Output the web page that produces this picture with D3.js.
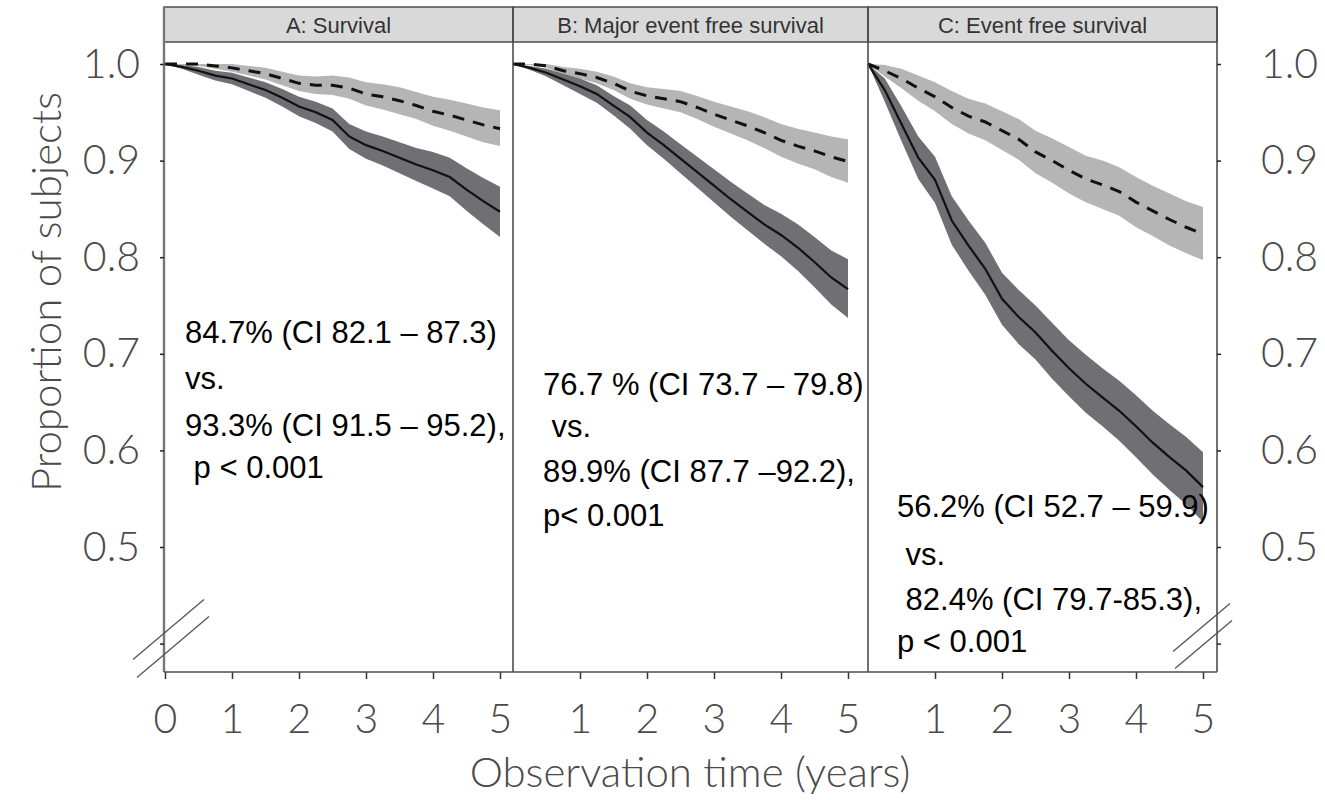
<!DOCTYPE html>
<meta charset="utf-8">
<style>
body { margin: 0; background: #fff; }
svg { display: block; }
.tick-label, .axis-title {
  font-family: Lato, "Open Sans", sans-serif;
  font-weight: 300;
  fill: #4a4a4a;
}
.strip-text {
  font-family: "Liberation Sans", Arial, sans-serif;
  font-size: 22px;
  fill: #333;
}
.note {
  font-family: "Liberation Sans", Arial, sans-serif;
  font-size: 31px;
  fill: #000;
  white-space: pre;
}
</style>
<body>
<script src="https://d3js.org/d3.v7.min.js"></script>
<script>
// follow-up times (years)
var years = [0, 0.25, 0.5, 0.75, 1, 1.25, 1.5, 1.75, 2, 2.25, 2.5, 2.75, 3, 3.25, 3.5, 3.75, 4, 4.25, 4.5, 4.75, 5];

var panelTitles = ["A: Survival", "B: Major event free survival", "C: Event free survival"];

// A: survival
var aSolid   = [1.0, 0.997, 0.993, 0.988, 0.985, 0.979, 0.973, 0.965, 0.956, 0.950, 0.942, 0.925, 0.916, 0.910, 0.903, 0.896, 0.890, 0.883, 0.870, 0.858, 0.847];
var aSolidLo = [1.0, 0.995, 0.989, 0.983, 0.979, 0.972, 0.965, 0.956, 0.946, 0.939, 0.930, 0.912, 0.902, 0.895, 0.887, 0.879, 0.871, 0.863, 0.848, 0.834, 0.821];
var aSolidHi = [1.0, 0.999, 0.997, 0.993, 0.991, 0.986, 0.981, 0.974, 0.966, 0.961, 0.954, 0.938, 0.930, 0.925, 0.919, 0.913, 0.909, 0.903, 0.892, 0.882, 0.873];
var aDash    = [1.0, 1.0, 1.0, 0.998, 0.996, 0.993, 0.990, 0.985, 0.980, 0.978, 0.978, 0.975, 0.969, 0.966, 0.962, 0.957, 0.951, 0.947, 0.942, 0.937, 0.933];
var aDashLo  = [1.0, 0.999, 0.998, 0.995, 0.992, 0.988, 0.984, 0.978, 0.972, 0.969, 0.968, 0.964, 0.957, 0.953, 0.948, 0.943, 0.936, 0.931, 0.925, 0.919, 0.915];
var aDashHi  = [1.0, 1.0, 1.0, 1.0, 1.0, 0.998, 0.996, 0.992, 0.988, 0.987, 0.988, 0.986, 0.981, 0.979, 0.976, 0.971, 0.966, 0.963, 0.959, 0.955, 0.952];

// B: major event free survival
var bSolid   = [1.0, 0.996, 0.991, 0.984, 0.977, 0.969, 0.957, 0.945, 0.929, 0.916, 0.902, 0.888, 0.874, 0.860, 0.847, 0.834, 0.823, 0.810, 0.795, 0.779, 0.767];
var bSolidLo = [1.0, 0.994, 0.987, 0.978, 0.969, 0.960, 0.947, 0.933, 0.916, 0.902, 0.887, 0.872, 0.857, 0.842, 0.828, 0.814, 0.801, 0.786, 0.769, 0.751, 0.737];
var bSolidHi = [1.0, 0.998, 0.995, 0.990, 0.985, 0.978, 0.967, 0.957, 0.942, 0.930, 0.917, 0.904, 0.891, 0.878, 0.866, 0.854, 0.845, 0.834, 0.821, 0.807, 0.798];
var bDash    = [1.0, 1.0, 0.998, 0.993, 0.990, 0.986, 0.980, 0.972, 0.967, 0.964, 0.961, 0.955, 0.948, 0.942, 0.936, 0.929, 0.921, 0.915, 0.910, 0.904, 0.899];
var bDashLo  = [1.0, 0.999, 0.996, 0.989, 0.985, 0.980, 0.973, 0.964, 0.958, 0.954, 0.950, 0.943, 0.935, 0.928, 0.921, 0.913, 0.904, 0.897, 0.891, 0.883, 0.877];
var bDashHi  = [1.0, 1.0, 1.0, 0.997, 0.995, 0.992, 0.987, 0.980, 0.976, 0.974, 0.972, 0.967, 0.961, 0.956, 0.951, 0.945, 0.938, 0.933, 0.929, 0.925, 0.922];

// C: event free survival
var cSolid   = [1.0, 0.973, 0.938, 0.903, 0.880, 0.838, 0.812, 0.788, 0.757, 0.738, 0.722, 0.703, 0.685, 0.669, 0.655, 0.641, 0.625, 0.608, 0.593, 0.579, 0.562];
var cSolidLo = [1.0, 0.961, 0.920, 0.881, 0.856, 0.813, 0.786, 0.761, 0.730, 0.710, 0.694, 0.674, 0.656, 0.639, 0.625, 0.610, 0.593, 0.575, 0.559, 0.544, 0.526];
var cSolidHi = [1.0, 0.985, 0.956, 0.925, 0.904, 0.863, 0.838, 0.815, 0.784, 0.766, 0.750, 0.732, 0.714, 0.699, 0.685, 0.672, 0.657, 0.641, 0.627, 0.614, 0.598];
var cDash    = [1.0, 0.993, 0.985, 0.975, 0.966, 0.955, 0.946, 0.940, 0.931, 0.922, 0.909, 0.900, 0.890, 0.881, 0.875, 0.868, 0.857, 0.848, 0.839, 0.831, 0.824];
var cDashLo  = [1.0, 0.987, 0.975, 0.962, 0.951, 0.938, 0.928, 0.921, 0.911, 0.901, 0.887, 0.877, 0.866, 0.857, 0.850, 0.843, 0.831, 0.822, 0.812, 0.804, 0.797];
var cDashHi  = [1.0, 0.999, 0.995, 0.988, 0.981, 0.972, 0.964, 0.959, 0.951, 0.943, 0.931, 0.923, 0.914, 0.905, 0.900, 0.893, 0.883, 0.874, 0.866, 0.858, 0.852];

// annotation texts
var notesA = ["84.7% (CI 82.1 \u2013 87.3)", "vs.", "93.3% (CI 91.5 \u2013 95.2),", " p < 0.001"];
var notesB = ["76.7 % (CI 73.7 \u2013 79.8)", " vs.", "89.9% (CI 87.7 \u201392.2),", "p< 0.001"];
var notesC = ["56.2% (CI 52.7 \u2013 59.9)", " vs.", " 82.4% (CI 79.7-85.3),", "p < 0.001"];

var yTicks = [0.4, 0.5, 0.6, 0.7, 0.8, 0.9, 1.0];

// build per-panel tables
function rows(est, lo, hi) {
  return years.map(function(t, i) { return {t: t, v: est[i], lo: lo[i], hi: hi[i]}; });
}
var panels = [
  {title: panelTitles[0], solid: rows(aSolid, aSolidLo, aSolidHi), dash: rows(aDash, aDashLo, aDashHi), notes: notesA},
  {title: panelTitles[1], solid: rows(bSolid, bSolidLo, bSolidHi), dash: rows(bDash, bDashLo, bDashHi), notes: notesB},
  {title: panelTitles[2], solid: rows(cSolid, cSolidLo, cSolidHi), dash: rows(cDash, cDashLo, cDashHi), notes: notesC}
];

var width = 1325, height = 800;
var edges = [164, 513, 868, 1217];   // panel borders
var stripTop = 7, plotTop = 42, plotBottom = 672;
var noteX = [185, 543, 897];
var noteY = [[343, 389, 436, 478], [395, 437, 482, 526], [517, 565, 610, 652]];

var svg = d3.select("body").append("svg")
    .attr("width", width)
    .attr("height", height);

var y = d3.scaleLinear().domain([0.5, 1.0]).range([547, 64]);

var lineCol = "#4d4d4d";

panels.forEach(function(p, i) {
  var x0 = edges[i] + (i == 0 ? 1 : 0);
  var x = d3.scaleLinear().domain([0, 5]).range([x0, x0 + 335]);

  var area = d3.area()
      .x(function(d) { return x(d.t); })
      .y0(function(d) { return y(d.lo); })
      .y1(function(d) { return y(d.hi); });
  var line = d3.line()
      .x(function(d) { return x(d.t); })
      .y(function(d) { return y(d.v); });

  var g = svg.append("g");

  // bands
  g.append("path").datum(p.dash).attr("d", area).attr("fill", "#b5b5b5");
  g.append("path").datum(p.solid).attr("d", area).attr("fill", "#707074");

  // curves
  g.append("path").datum(p.solid).attr("d", line)
      .attr("fill", "none").attr("stroke", "#111").attr("stroke-width", 2.2);
  g.append("path").datum(p.dash).attr("d", line)
      .attr("fill", "none").attr("stroke", "#111").attr("stroke-width", 3)
      .attr("stroke-dasharray", "12,9");

  // strip header
  g.append("rect")
      .attr("x", edges[i]).attr("y", stripTop)
      .attr("width", edges[i + 1] - edges[i]).attr("height", plotTop - stripTop)
      .attr("fill", "#d9d9d9").attr("stroke", lineCol).attr("stroke-width", 1.5);
  g.append("text")
      .attr("class", "strip-text")
      .attr("x", (edges[i] + edges[i + 1]) / 2)
      .attr("y", 33)
      .attr("text-anchor", "middle")
      .text(p.title);

  // x axis
  var ticks = i == 0 ? [0, 1, 2, 3, 4, 5] : [1, 2, 3, 4, 5];
  var ax = g.append("g")
      .attr("transform", "translate(0," + plotBottom + ")")
      .call(d3.axisBottom(x).tickValues(ticks).tickSize(7).tickPadding(25).tickFormat(d3.format("d")));
  ax.select(".domain").remove();
  ax.selectAll("line").attr("stroke", "#333").attr("stroke-width", 1.5);
  ax.selectAll("text").attr("class", "tick-label").style("font-size", "41px").attr("fill", null);

  // notes
  g.selectAll(".note")
      .data(p.notes)
      .enter()
      .append("text")
      .attr("class", "note")
      .attr("x", noteX[i])
      .attr("y", function(d, j) { return noteY[i][j]; })
      .text(function(d) { return d; });
});

// frame
var frame = svg.append("g").attr("stroke", lineCol).attr("stroke-width", 1.6);
edges.forEach(function(e, i) {
  frame.append("line").attr("x1", e).attr("x2", e).attr("y1", stripTop).attr("y2", plotBottom)
      .attr("stroke-width", i == 0 ? 2.4 : 1.6).attr("stroke", i == 0 ? "#777" : lineCol);
});
frame.append("line").attr("x1", edges[0]).attr("x2", edges[3]).attr("y1", plotBottom).attr("y2", plotBottom);

// y axes
var yl = svg.append("g")
    .attr("transform", "translate(" + edges[0] + ",0)")
    .call(d3.axisLeft(y).tickValues(yTicks).tickSize(4).tickPadding(20)
          .tickFormat(function(v) { return v < 0.45 ? "" : d3.format(".1f")(v); }));
var yr = svg.append("g")
    .attr("transform", "translate(" + edges[3] + ",0)")
    .call(d3.axisRight(y).tickValues(yTicks).tickSize(4).tickPadding(40)
          .tickFormat(function(v) { return v < 0.45 ? "" : d3.format(".1f")(v); }));
[yl, yr].forEach(function(a) {
  a.select(".domain").remove();
  a.selectAll("line").attr("stroke", "#222").attr("stroke-width", 1.5);
  a.selectAll("text").attr("class", "tick-label").style("font-size", "41px").attr("fill", null);
});

// axis break marks
var brk = svg.append("g").attr("stroke", "#555").attr("stroke-width", 1.3);
var bx = edges[0], by = y(0.4);
brk.append("line").attr("x1", bx - 31).attr("y1", by + 16).attr("x2", bx + 40).attr("y2", by - 44);
brk.append("line").attr("x1", bx - 27).attr("y1", by + 34).attr("x2", bx + 45).attr("y2", by - 27);
var rx = edges[3];
brk.append("line").attr("x1", rx - 44).attr("y1", by + 8).attr("x2", rx + 13).attr("y2", by - 40);
brk.append("line").attr("x1", rx - 42).attr("y1", by + 25).attr("x2", rx + 15).attr("y2", by - 23);

// axis titles
svg.append("text")
    .attr("class", "axis-title")
    .attr("transform", "translate(61,292) rotate(-90)")
    .attr("text-anchor", "middle")
    .style("font-size", "42px")
    .text("Proportion of subjects");
svg.append("text")
    .attr("class", "axis-title")
    .attr("x", 690)
    .attr("y", 787)
    .attr("text-anchor", "middle")
    .style("font-size", "42px")
    .text("Observation time (years)");
</script>
</body>
